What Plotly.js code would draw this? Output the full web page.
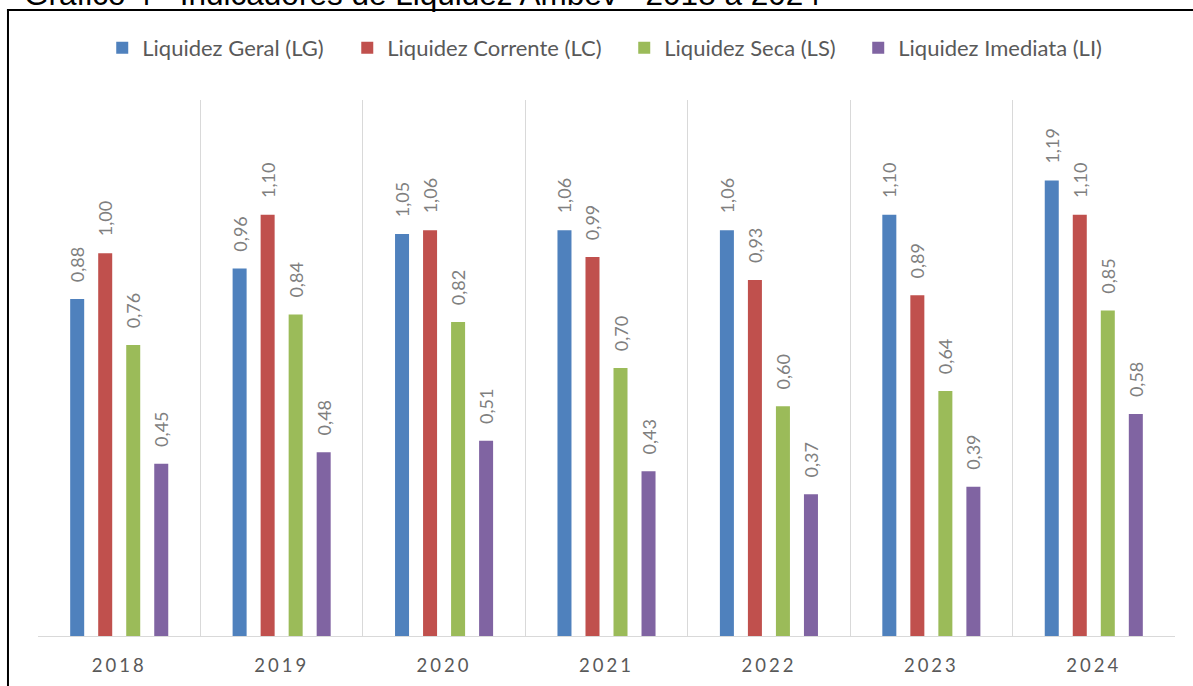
<!DOCTYPE html>
<html>
<head>
<meta charset="utf-8">
<script src="https://cdn.plot.ly/plotly-3.0.1.min.js"></script>
<style>
html,body{margin:0;padding:0;background:#fff;}
#chart{width:1193px;height:686px;}
.xtick text{letter-spacing:3px;}
</style>
</head>
<body>
<div id="chart"></div>
<script>
const years = ["2018","2019","2020","2021","2022","2023","2024"];
const seriesNames = ["Liquidez Geral (LG)","Liquidez Corrente (LC)","Liquidez Seca (LS)","Liquidez Imediata (LI)"];
const lg = [0.88, 0.96, 1.05, 1.06, 1.06, 1.10, 1.19];
const lc = [1.00, 1.10, 1.06, 0.99, 0.93, 0.89, 1.10];
const ls = [0.76, 0.84, 0.82, 0.70, 0.60, 0.64, 0.85];
const li = [0.45, 0.48, 0.51, 0.43, 0.37, 0.39, 0.58];
const colors = ["#4F81BD","#C0504D","#9BBB59","#8064A2"];
const titleText = "Gráfico 4 - Indicadores de Liquidez Ambev - 2018 a 2024";

const legendIds = ["legend","legend2","legend3","legend4"];
const legendX = [0.0565, 0.2720, 0.5156, 0.7214];

const allSeries = [lg, lc, ls, li];
const traces = allSeries.map((vals, i) => ({
  type: "bar",
  name: seriesNames[i],
  legend: legendIds[i],
  x: years,
  y: vals,
  marker: {color: colors[i]},
  texttemplate: "\u00a0\u00a0\u00a0%{y:.2f}",
  textposition: "outside",
  textangle: -90,
  constraintext: "none",
  cliponaxis: false,
  textfont: {family: "Lato, 'Open Sans', sans-serif", size: 18, color: "#7f7f7f"},
  hoverinfo: "skip"
}));

const legendFont = {family: "Lato, 'Open Sans', sans-serif", size: 22, color: "#595959"};

const layout = {
  width: 1193,
  height: 686,
  margin: {l: 38, r: 18, t: 100, b: 50},
  paper_bgcolor: "#ffffff",
  plot_bgcolor: "#ffffff",
  separators: ",.",
  barmode: "group",
  bargap: 0.31,
  bargroupgap: 0.5,
  showlegend: true,
  xaxis: {
    type: "category",
    tickson: "boundaries",
    showgrid: true,
    gridcolor: "#d9d9d9",
    gridwidth: 1,
    showline: true,
    linecolor: "#d9d9d9",
    linewidth: 1,
    ticks: "",
    ticklabelstandoff: 13,
    tickfont: {family: "Lato, 'Open Sans', sans-serif", size: 18.5, color: "#595959"},
    range: [-0.5, 6.5],
    zeroline: false
  },
  yaxis: {
    range: [0, 1.40],
    showgrid: false,
    showticklabels: false,
    showline: false,
    zeroline: false,
    ticks: ""
  },
  annotations: [{
    text: titleText,
    xref: "paper", yref: "paper",
    x: -0.014, xanchor: "left",
    y: 1, yanchor: "bottom",
    yshift: 85.5,
    showarrow: false,
    font: {family: "'Liberation Sans', Arial, sans-serif", size: 31.5, color: "#000000"}
  }],
  shapes: [
    {type: "line", xref: "paper", yref: "paper", x0: -0.0264, x1: -0.0264, y0: 1.168, y1: -0.12, line: {color: "#000000", width: 2}},
    {type: "line", xref: "paper", yref: "paper", x0: -0.0273, x1: 1.03, y0: 1.168, y1: 1.168, line: {color: "#000000", width: 2}}
  ]
};

legendIds.forEach((id, i) => {
  layout[id] = {
    orientation: "h",
    x: legendX[i], xanchor: "left",
    y: 1.097, yanchor: "middle",
    font: legendFont,
    bgcolor: "rgba(0,0,0,0)",
    itemclick: false
  };
});

Plotly.newPlot("chart", traces, layout, {displayModeBar: false, staticPlot: true});
</script>
</body>
</html>
